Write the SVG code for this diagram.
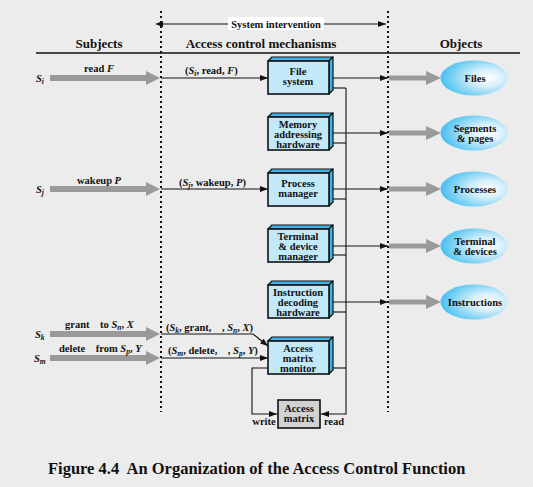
<svg xmlns="http://www.w3.org/2000/svg" width="533" height="487" viewBox="0 0 533 487">
<defs>
<style>
text{font-family:"Liberation Serif","Times New Roman",serif;font-weight:bold;fill:#111;white-space:pre}
.lbl{font-size:10.5px}
.hdr{font-size:13px}
.mid{text-anchor:middle}
.it{font-style:italic}
.sub{font-size:7.5px;font-style:italic}
.front{fill:#c2e9f9;stroke:#111;stroke-width:1.6}
.face{fill:#3fb3e6;stroke:#111;stroke-width:1.2;stroke-linejoin:round}
.ln{stroke:#111;stroke-width:1.1;fill:none}
.dot{stroke:#111;stroke-width:2;stroke-dasharray:2,3;fill:none}
.gray{fill:#9a9a9a}
</style>
<marker id="ah" markerWidth="8" markerHeight="6" refX="8" refY="3" orient="auto" markerUnits="userSpaceOnUse">
<path d="M0,0 L8,3 L0,6 z" fill="#111"/>
</marker>
<marker id="ahs" markerWidth="8" markerHeight="6" refX="0" refY="3" orient="auto-start-reverse" markerUnits="userSpaceOnUse">
<path d="M0,0 L8,3 L0,6 z" fill="#111"/>
</marker>
<radialGradient id="eg" cx="0.68" cy="0.5" r="0.7" fx="0.72" fy="0.5">
<stop offset="0" stop-color="#ffffff"/>
<stop offset="0.35" stop-color="#d6effa"/>
<stop offset="1" stop-color="#3fbdf0"/>
</radialGradient>
<g id="gbox">
<path class="face" d="M0,0 L4,-4 L65,-4 L61,0 Z"/>
<path class="face" d="M61,0 L65,-4 L65,29 L61,33 Z"/>
<rect class="front" x="0" y="0" width="61" height="33"/>
</g>
</defs>
<rect x="0" y="0" width="533" height="487" fill="#ececec"/>

<!-- frame -->
<g id="frame">
<line class="dot" x1="161" y1="11" x2="161" y2="412"/>
<line class="dot" x1="388" y1="11" x2="388" y2="412"/>
<line x1="36" y1="53" x2="520" y2="53" stroke="#111" stroke-width="1.3"/>
<line class="ln" x1="163" y1="24" x2="386" y2="24" marker-start="url(#ahs)" marker-end="url(#ah)"/>
<rect x="228" y="17" width="96" height="13" fill="#fff"/>
<text class="lbl mid" x="276" y="27.5">System intervention</text>
<text class="hdr mid" x="99" y="48">Subjects</text>
<text class="hdr mid" x="261" y="48">Access control mechanisms</text>
<text class="hdr mid" x="461" y="48">Objects</text>
</g>

<!-- connectors -->
<g id="connectors">
<g class="gray">
<path d="M50,75 L146,75 L146,71 L160,78 L146,85 L146,81 L50,81 Z"/>
<path d="M50,186 L146,186 L146,182 L160,189 L146,196 L146,192 L50,192 Z"/>
<path d="M50,331 L146,331 L146,327 L160,334 L146,341 L146,337 L50,337 Z"/>
<path d="M50,355 L146,355 L146,351 L160,358 L146,365 L146,361 L50,361 Z"/>
<path d="M389,75.5 L426,75.5 L426,71 L441,78 L426,85 L426,80.5 L389,80.5 Z"/>
<path d="M389,130.5 L426,130.5 L426,126 L441,133 L426,140 L426,135.5 L389,135.5 Z"/>
<path d="M389,186.5 L426,186.5 L426,182 L441,189 L426,196 L426,191.5 L389,191.5 Z"/>
<path d="M389,243.5 L426,243.5 L426,239 L441,246 L426,253 L426,248.5 L389,248.5 Z"/>
<path d="M389,299.5 L426,299.5 L426,295 L441,302 L426,309 L426,304.5 L389,304.5 Z"/>
</g>
<line class="ln" x1="161" y1="78" x2="268" y2="78" marker-end="url(#ah)"/>
<line class="ln" x1="161" y1="189" x2="268" y2="189" marker-end="url(#ah)"/>
<polyline class="ln" points="161,334 253,334 268,346" marker-end="url(#ah)"/>
<line class="ln" x1="161" y1="358" x2="268" y2="358" marker-end="url(#ah)"/>
<line class="ln" x1="329" y1="78" x2="388" y2="78" marker-end="url(#ah)"/>
<line class="ln" x1="329" y1="133" x2="388" y2="133" marker-end="url(#ah)"/>
<line class="ln" x1="329" y1="189" x2="388" y2="189" marker-end="url(#ah)"/>
<line class="ln" x1="329" y1="246" x2="388" y2="246" marker-end="url(#ah)"/>
<line class="ln" x1="329" y1="302" x2="388" y2="302" marker-end="url(#ah)"/>
<line class="ln" x1="329" y1="88" x2="346" y2="88"/>
<line class="ln" x1="329" y1="143" x2="346" y2="143"/>
<line class="ln" x1="329" y1="199" x2="346" y2="199"/>
<line class="ln" x1="329" y1="255" x2="346" y2="255"/>
<line class="ln" x1="329" y1="312" x2="346" y2="312"/>
<line class="ln" x1="329" y1="368" x2="346" y2="368"/>
<polyline class="ln" points="346,88 346,414 321,414" marker-end="url(#ah)"/>
<polyline class="ln" points="268,368 252,368 252,414 277,414" marker-end="url(#ah)"/>
</g>

<!-- subject labels -->
<g id="subjects">
<text class="lbl it" x="36" y="82">S<tspan class="sub" dy="2">i</tspan></text>
<text class="lbl mid" x="99" y="72">read <tspan class="it">F</tspan></text>
<text class="lbl" x="185" y="74">(<tspan class="it">S</tspan><tspan class="sub" dy="2">i</tspan><tspan dy="-2">, read, </tspan><tspan class="it">F</tspan>)</text>

<text class="lbl it" x="36" y="193">S<tspan class="sub" dy="2">j</tspan></text>
<text class="lbl mid" x="99" y="184">wakeup <tspan class="it">P</tspan></text>
<text class="lbl" x="179" y="186">(<tspan class="it">S</tspan><tspan class="sub" dy="2">j</tspan><tspan dy="-2">, wakeup, </tspan><tspan class="it">P</tspan>)</text>

<text class="lbl it" x="35" y="338">S<tspan class="sub" dy="2">k</tspan></text>
<text class="lbl" x="65" y="328">grant    to <tspan class="it">S</tspan><tspan class="sub" dy="2">n</tspan><tspan dy="-2">, </tspan><tspan class="it">X</tspan></text>
<text class="lbl" x="166" y="331">(<tspan class="it">S</tspan><tspan class="sub" dy="2">k</tspan><tspan dy="-2">, grant,    , </tspan><tspan class="it">S</tspan><tspan class="sub" dy="2">n</tspan><tspan dy="-2">, </tspan><tspan class="it">X</tspan>)</text>

<text class="lbl it" x="34" y="362">S<tspan class="sub" dy="2">m</tspan></text>
<text class="lbl" x="59" y="352">delete    from <tspan class="it">S</tspan><tspan class="sub" dy="2">p</tspan><tspan dy="-2">, </tspan><tspan class="it">Y</tspan></text>
<text class="lbl" x="168" y="354">(<tspan class="it">S</tspan><tspan class="sub" dy="2">m</tspan><tspan dy="-2">, delete,    , </tspan><tspan class="it">S</tspan><tspan class="sub" dy="2">p</tspan><tspan dy="-2">, </tspan><tspan class="it">Y</tspan>)</text>
</g>

<!-- mechanism nodes -->
<g id="file-system">
<use href="#gbox" x="268" y="61"/>
<text class="lbl mid" x="298" y="75">File</text>
<text class="lbl mid" x="298" y="85">system</text>
</g>
<g id="memory">
<use href="#gbox" x="268" y="117"/>
<text class="lbl mid" x="298" y="128">Memory</text>
<text class="lbl mid" x="298" y="138">addressing</text>
<text class="lbl mid" x="298" y="148">hardware</text>
</g>
<g id="process-manager">
<use href="#gbox" x="268" y="173"/>
<text class="lbl mid" x="298" y="187">Process</text>
<text class="lbl mid" x="298" y="197">manager</text>
</g>
<g id="terminal-manager">
<use href="#gbox" x="268" y="229"/>
<text class="lbl mid" x="298" y="240">Terminal</text>
<text class="lbl mid" x="298" y="250">&amp; device</text>
<text class="lbl mid" x="298" y="260">manager</text>
</g>
<g id="instruction-hw">
<use href="#gbox" x="268" y="285"/>
<text class="lbl mid" x="298" y="296">Instruction</text>
<text class="lbl mid" x="298" y="306">decoding</text>
<text class="lbl mid" x="298" y="316">hardware</text>
</g>
<g id="monitor">
<use href="#gbox" x="268" y="341"/>
<text class="lbl mid" x="298" y="352">Access</text>
<text class="lbl mid" x="298" y="362">matrix</text>
<text class="lbl mid" x="298" y="372">monitor</text>
</g>
<g id="access-matrix">
<rect x="278" y="400" width="42" height="28" fill="#d2d2d2" stroke="#111" stroke-width="1.6"/>
<text class="lbl mid" x="299" y="412">Access</text>
<text class="lbl mid" x="299" y="422">matrix</text>
<text class="lbl mid" x="264" y="425">write</text>
<text class="lbl mid" x="334" y="425">read</text>
</g>

<!-- objects -->
<g id="files">
<ellipse cx="474" cy="78" rx="33.5" ry="17.5" fill="url(#eg)"/>
<text class="lbl mid" x="475" y="81.5">Files</text>
</g>
<g id="segments">
<ellipse cx="474" cy="133" rx="33.5" ry="17.5" fill="url(#eg)"/>
<text class="lbl mid" x="475" y="132">Segments</text>
<text class="lbl mid" x="475" y="142">&amp; pages</text>
</g>
<g id="processes">
<ellipse cx="474" cy="189" rx="33.5" ry="17.5" fill="url(#eg)"/>
<text class="lbl mid" x="475" y="192.5">Processes</text>
</g>
<g id="terminals">
<ellipse cx="474" cy="246" rx="33.5" ry="17.5" fill="url(#eg)"/>
<text class="lbl mid" x="475" y="245">Terminal</text>
<text class="lbl mid" x="475" y="255">&amp; devices</text>
</g>
<g id="instructions">
<ellipse cx="474" cy="302" rx="33.5" ry="17.5" fill="url(#eg)"/>
<text class="lbl mid" x="475" y="305.5">Instructions</text>
</g>

<text x="48" y="474" style="font-size:16.5px">Figure 4.4  An Organization of the Access Control Function</text>
</svg>
